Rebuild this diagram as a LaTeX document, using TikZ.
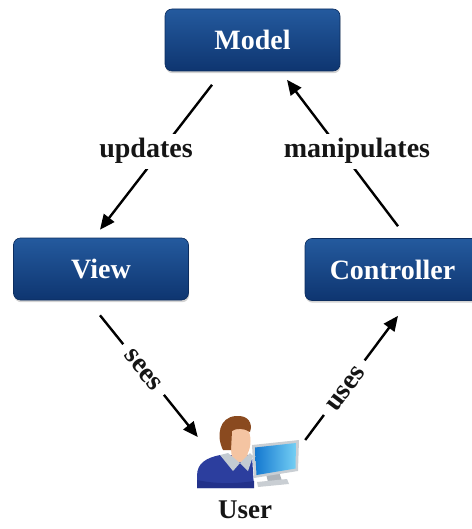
\documentclass[tikz,border=0pt]{standalone}
\usepackage{fontspec}
\setmainfont{Liberation Serif}
\usetikzlibrary{arrows.meta,calc,shadows}

\definecolor{boxtop}{HTML}{245A9E}
\definecolor{boxbot}{HTML}{0E3570}
\definecolor{labeltxt}{HTML}{151515}
\definecolor{hair}{HTML}{8A4A1F}
\definecolor{skin}{HTML}{F4C4A2}
\definecolor{sweater}{HTML}{2C3E9E}
\definecolor{sweaterdark}{HTML}{22318A}
\definecolor{collar}{HTML}{C3CBD2}
\definecolor{frame}{HTML}{C9CED3}
\definecolor{screenA}{HTML}{1478D0}
\definecolor{screenB}{HTML}{74CFF4}
\definecolor{standgray}{HTML}{AEB4BA}

\begin{document}
\begin{tikzpicture}[x=1pt,y=-1pt,
  mvc/.style={rectangle, rounded corners=7pt, minimum width=175pt,
    minimum height=62pt, inner sep=0pt, top color=boxtop, bottom color=boxbot,
    draw=boxbot!85!black, line width=0.6pt, text=white,
    font=\fontsize{28}{30}\selectfont\bfseries,
    drop shadow={opacity=0.35, shadow xshift=0.6pt, shadow yshift=-2.2pt}},
  flow/.style={line width=2.4pt, -{Triangle[length=15pt,width=13pt]}},
  lbl/.style={fill=white, text=labeltxt, inner xsep=7pt, inner ysep=5pt,
    font=\fontsize{28}{30}\selectfont\bfseries},
  slbl/.style={lbl, inner xsep=9pt, inner ysep=3pt}
]
\useasboundingbox (0,0) rectangle (471,529);

% the three MVC parts
\node[mvc] (model) at (252.5,40) {Model};
\node[mvc] (view) at (101,269) {View};
\node[mvc] (controller) at (392.5,269.5) {Controller};

% area taken by the user icon
\node[minimum width=104pt, minimum height=72pt, inner sep=0pt] (user) at (248,452) {};

% connectors
\draw[flow] ($(model.south)+(-40.5,13.5)$) -- ($(view.north)+(-1,-8)$);
\draw[flow] ($(controller.north)+(5.5,-12)$) -- ($(model.south)+(34.5,8.5)$);
\draw[flow] ($(view.south)+(-1,15)$) -- ($(user.west)+(2,-15)$);
\draw[flow] ($(user.east)+(5,-12)$) -- ($(controller.south)+(5.5,15)$);

% connector labels
\node[lbl, anchor=base] (updlbl) at (146,158) {updates};
\node[lbl, anchor=base] (manlbl) at (357,158) {manipulates};
\node[slbl, rotate=-51] (seeslbl) at (143,370) {sees};
\node[slbl, rotate=53] (useslbl) at (346,389) {uses};

% user: body
\fill[sweater] (197,488) -- (197,476)
  .. controls (197,463) and (206,458) .. (220,455)
  -- (252,455) -- (254,488) -- cycle;
\fill[sweaterdark] (197,488) -- (197,480) .. controls (215,484) and (235,484) .. (254,481) -- (254,488) -- cycle;
% neck
\fill[skin] (231,446) -- (247,446) -- (248,462) -- (232,462) -- cycle;
% collar
\fill[collar] (220,455) -- (228,453) -- (240,463) -- (250,453) -- (253,456)
  -- (248,471) -- (240,463) -- (233,471) -- cycle;
% face
\fill[skin] (240,441) ellipse [x radius=10.5, y radius=18];
% hair
\fill[hair] (223,450) .. controls (216,436) and (219,417) .. (236,416)
  .. controls (248,415) and (253,423) .. (250,432)
  .. controls (244,428) and (236,428) .. (232,431)
  -- (231,450) -- cycle;
% monitor stand
\fill[standgray] (266,474) -- (279,472) -- (282,481) -- (268,482) -- cycle;
\fill[frame] (257,482) -- (287,479) -- (289,484) -- (258,487) -- cycle;
% monitor
\fill[frame] (252,445) -- (299,440) -- (298,471) -- (254,478) -- cycle;
\shade[left color=screenA, right color=screenB]
  (255,447.5) -- (296,443) -- (295.5,468.5) -- (256.5,475) -- cycle;

% user caption
\node[text=labeltxt, font=\fontsize{27}{30}\selectfont\bfseries, anchor=base]
  (userlbl) at (245,518) {User};
\end{tikzpicture}
\end{document}
